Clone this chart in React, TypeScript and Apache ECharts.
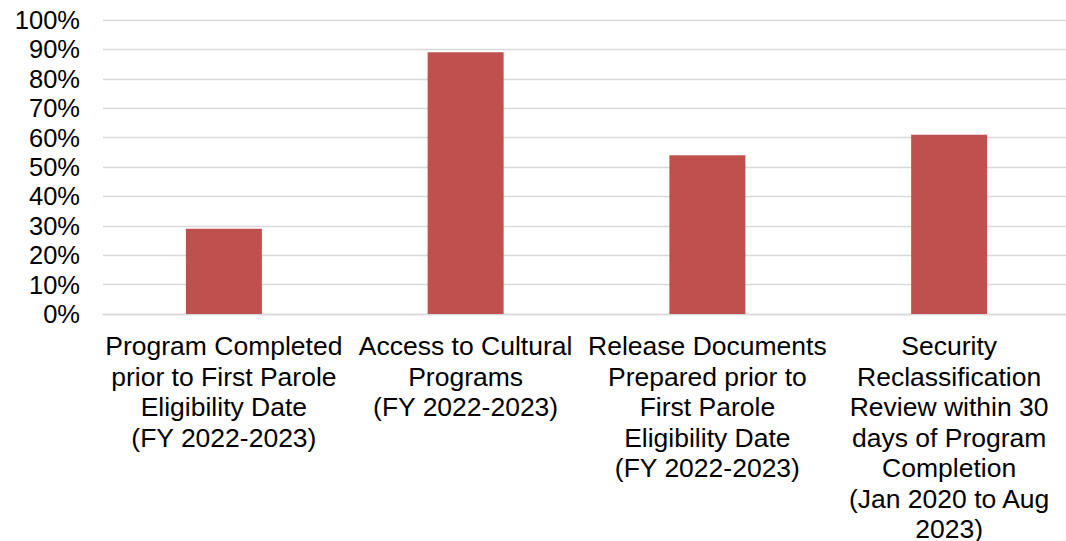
import React, { useEffect, useRef } from "react";
import * as echarts from "echarts";

const categories = [
  "Program Completed\nprior to First Parole\nEligibility Date\n(FY 2022-2023)",
  "Access to Cultural\nPrograms\n(FY 2022-2023)",
  "Release Documents\nPrepared prior to\nFirst Parole\nEligibility Date\n(FY 2022-2023)",
  "Security\nReclassification\nReview within 30\ndays of Program\nCompletion\n(Jan 2020 to Aug\n2023)",
];
const values = [29, 89, 54, 61];

const FONT = "'Liberation Sans', Arial, sans-serif";

export default function App() {
  const ref = useRef<HTMLDivElement>(null);
  useEffect(() => {
    if (!ref.current) return;
    const chart = echarts.init(ref.current, undefined, { renderer: "svg" });
    chart.setOption({
      animation: false,
      grid: { left: 103, top: 20, width: 967, bottom: 227, containLabel: false, outerBoundsMode: "none" },
      xAxis: {
        type: "category",
        data: categories,
        axisLine: { show: true, lineStyle: { color: "#d9d9d9", width: 1.3 } },
        axisTick: { show: false },
        axisLabel: {
          interval: 0,
          margin: 17,
          color: "#000",
          fontSize: 26.5,
          lineHeight: 30.5,
          fontFamily: FONT,
          align: "center",
        },
      },
      yAxis: {
        type: "value",
        min: 0,
        max: 100,
        interval: 10,
        axisLine: { show: false },
        axisTick: { show: false },
        splitLine: { show: true, lineStyle: { color: "#d9d9d9", width: 1.3 } },
        axisLabel: {
          margin: 23,
          color: "#000",
          fontSize: 25.5,
          fontFamily: FONT,
          formatter: "{value}%",
        },
      },
      series: [
        {
          type: "bar",
          data: values,
          barWidth: 76,
          itemStyle: { color: "#c0504d" },
        },
      ],
    });
    return () => chart.dispose();
  }, []);
  return (
    <div
      ref={ref}
      style={{ position: "fixed", left: 0, top: 0, width: 1066, height: 541, background: "#fff" }}
    />
  );
}
